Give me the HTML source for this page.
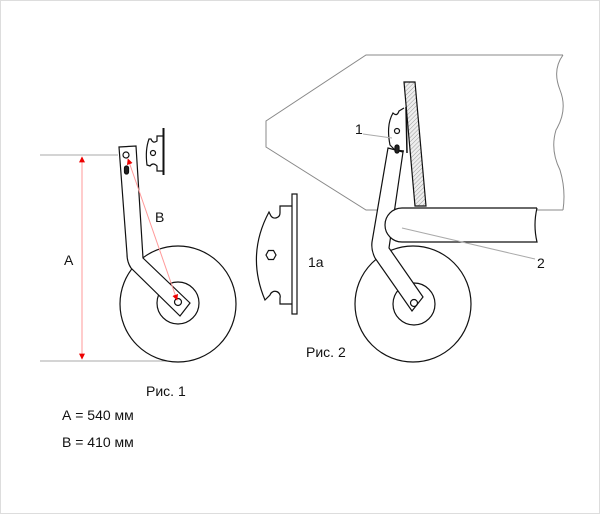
<!DOCTYPE html>
<html><head><meta charset="utf-8"><style>
html,body{margin:0;padding:0;background:#fff}
svg{display:block}
text{font-family:"Liberation Sans",sans-serif;font-size:14px;fill:#111}
</style></head><body>
<svg width="600" height="514" viewBox="0 0 600 514" xmlns="http://www.w3.org/2000/svg">
<defs>
<pattern id="h" width="3" height="3" patternUnits="userSpaceOnUse" patternTransform="rotate(45)">
<rect width="3" height="3" fill="#eee"/><line x1="0" y1="0" x2="0" y2="3" stroke="#999" stroke-width="1"/></pattern>
<marker id="ar" viewBox="0 0 10 10" refX="9" refY="5" markerWidth="6" markerHeight="6" orient="auto-start-reverse"><path d="M0,0 L10,5 L0,10z" fill="#e00"/></marker>
</defs>
<rect x="0.5" y="0.5" width="599" height="513" fill="#fff" stroke="#ddd"/>
<g fill="none" stroke="#111" stroke-width="1.2">
<!-- Fig1 -->
<line x1="40" y1="155" x2="118" y2="155" stroke="#aaa" stroke-width="1"/>
<line x1="40" y1="361" x2="175" y2="361" stroke="#aaa" stroke-width="1"/>
<line x1="82" y1="157" x2="82" y2="359" stroke="#f99" stroke-width="1" marker-start="url(#ar)" marker-end="url(#ar)"/>
<circle cx="178" cy="304" r="58" fill="#fff"/>
<circle cx="178" cy="303" r="21"/>
<path d="M119,147 L136,146 L143,258 L190,303 L180,316 L131,268 Q127,262 127,254 Z" fill="#fff"/>
<circle cx="126" cy="155" r="3"/>
<rect x="124.5" y="166" width="4" height="8" rx="2" fill="#222"/>
<circle cx="178" cy="302" r="3.5"/>
<line x1="128" y1="159" x2="177" y2="300" stroke="#f99" stroke-width="1" marker-start="url(#ar)" marker-end="url(#ar)"/>
<!-- small bracket fig1 -->
<path d="M163,136 L157,136 L157,141 Q153,144 151,139 L149,139 Q145,150 147,165 L150,166 Q153,162 157,166 L157,171 L163,171"/>
<line x1="163.5" y1="128" x2="163.5" y2="175" stroke-width="2"/>
<circle cx="153" cy="153" r="2.5"/>
<!-- 1a -->
<rect x="292" y="194" width="5" height="120" fill="#fff"/>
<path d="M292,206 L280,206 L280,213 A5,5 0 0 1 271,216 L269,212 Q246,255 265,300 L270,295 A5,5 0 0 1 280,298 L280,304 L292,304"/>
<polygon points="266,255 268.5,250.5 273.5,250.5 276,255 273.5,259.5 268.5,259.5"/>
<!-- Fig2 body -->
<path d="M563,55 L366,55 L266,121 L266,147 L366,210 L563,210" stroke="#888" stroke-width="1"/>
<path d="M563,55 Q552,70 560,90 Q568,110 556,130 Q550,150 560,170 Q566,190 563,210" stroke="#888" stroke-width="1"/>
<polygon points="404,82 415,82 426,206 415,206" fill="url(#h)"/>
<circle cx="413" cy="304" r="58" fill="#fff"/>
<circle cx="414" cy="304" r="21"/>
<path d="M388,148 L403,152 L389,248 L423,297 L412,311 L375,258 Q371,250 372,242 Z" fill="#fff"/>
<circle cx="414" cy="303" r="3.5"/>
<path d="M537,208 L402,208 A17,17 0 0 0 402,242 L537,242 Q533,225 537,208" fill="#fff"/>
<line x1="402" y1="228" x2="535" y2="259" stroke="#aaa" stroke-width="1"/>
<path d="M404,108 L399,111 Q397,117 393,113 Q386,125 390,145 L395,150 L404,151"/>
<line x1="406" y1="107" x2="407" y2="153" stroke-width="1.5"/>
<circle cx="397" cy="131" r="2.5"/>
<rect x="395" y="145" width="4" height="8" rx="2" fill="#222"/>
<line x1="363" y1="134" x2="392" y2="138" stroke="#aaa" stroke-width="1"/>
</g>
<text x="64" y="265">A</text>
<text x="155" y="222">B</text>
<text x="308" y="267">1a</text>
<text x="355" y="134">1</text>
<text x="537" y="268">2</text>
<text x="306" y="357">Рис. 2</text>
<text x="146" y="396">Рис. 1</text>
<text x="62" y="420">А = 540 мм</text>
<text x="62" y="447">В = 410 мм</text>
</svg>
</body></html>
